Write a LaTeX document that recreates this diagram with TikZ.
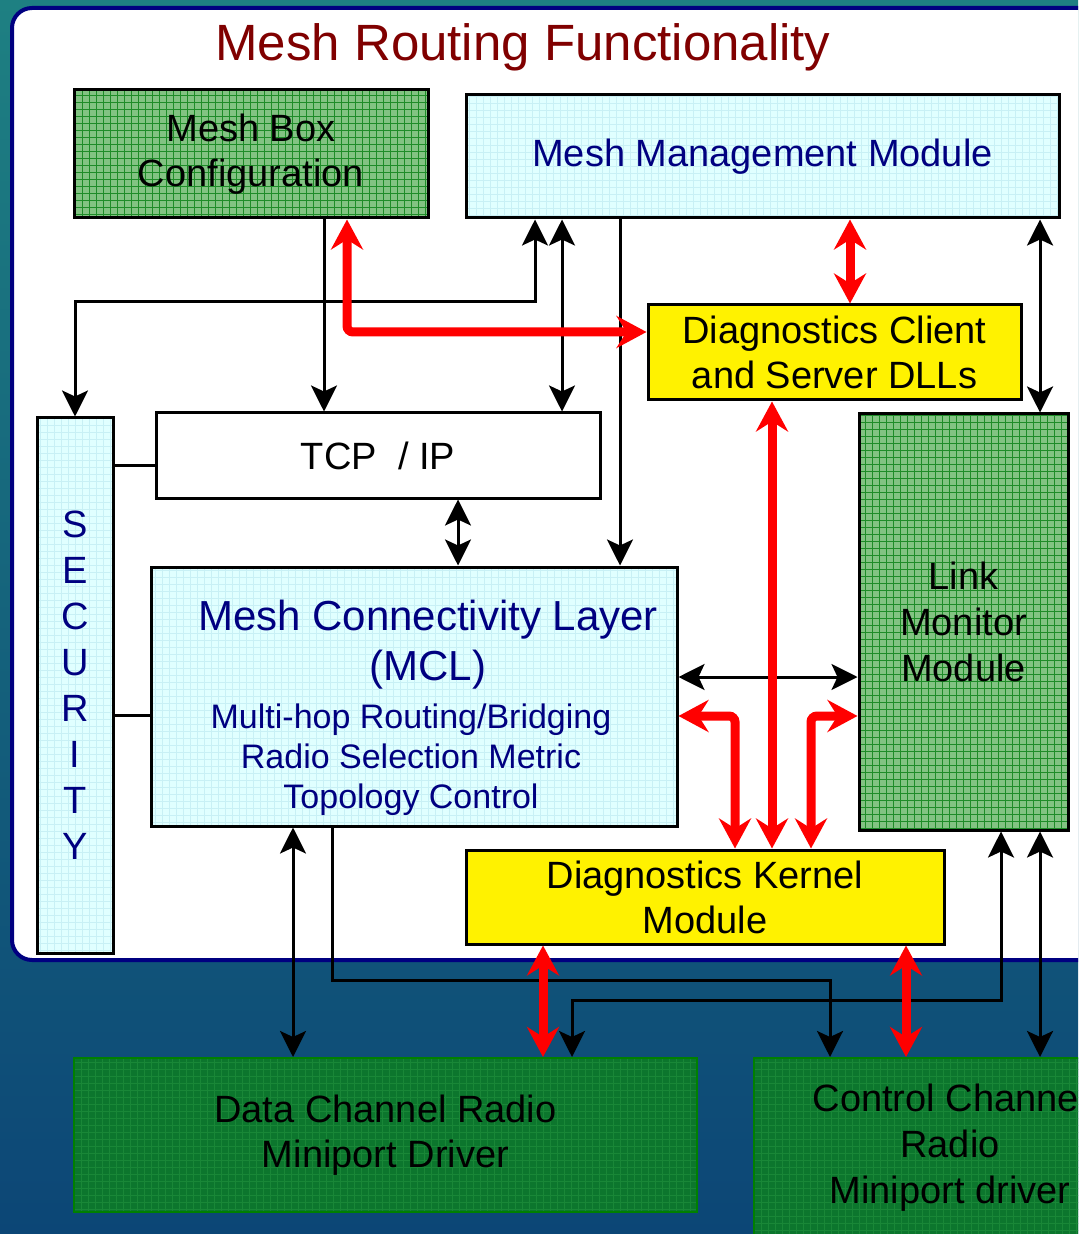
\documentclass[tikz,border=0pt]{standalone}
\usepackage{fontspec}
\setmainfont{Liberation Sans}
\usetikzlibrary{arrows.meta}
\definecolor{navy}{RGB}{0,0,128}
\definecolor{dred}{RGB}{128,0,0}
\definecolor{lcyan}{RGB}{224,255,255}
\definecolor{lcyangrid}{RGB}{200,240,245}
\definecolor{lgreen}{RGB}{130,195,130}
\definecolor{lgreengrid}{RGB}{30,140,40}
\definecolor{dgreen}{RGB}{12,118,45}
\definecolor{dgreengrid}{RGB}{25,135,55}
\definecolor{dgborder}{RGB}{0,128,0}
\definecolor{bgtop}{RGB}{30,128,130}
\definecolor{bgbot}{RGB}{12,70,118}
\tikzset{
  btip/.tip={Stealth[length=13pt,width=13pt,inset=3pt]},
  rtip/.tip={Stealth[length=15pt,width=16pt,inset=5pt]}
}
\begin{document}
\begin{tikzpicture}[x=0.5pt,y=-0.5pt,
  box/.style={draw=black, line width=1.5pt, inner sep=0pt, align=center,
    font=\fontsize{19}{22.5}\selectfont},
  gridfill/.style 2 args={fill=#1, path picture={
    \draw[#2, line width=0.4pt] (path picture bounding box.south west)
      grid[step=3.5pt] (path picture bounding box.north east);}},
  blk/.style={draw=black, line width=1.5pt},
  rd/.style={draw=red, line width=4.5pt, rounded corners=3pt}
]
\useasboundingbox (0,0) rectangle (1078,1234);
\clip (0,0) rectangle (1078,1234);
% background
\shade[top color=bgtop, bottom color=bgbot] (0,0) rectangle (1078,1234);
% white panel
\draw[navy, line width=2pt, fill=white, rounded corners=10pt] (12,8) rectangle (1110,960);
% title
\node[text=dred, font=\fontsize{25.5}{30}\selectfont] (title) at (523,47) {Mesh Routing Functionality};
% boxes
\node[box, gridfill={lgreen}{lgreengrid}, minimum width=177pt, minimum height=64pt] (meshbox) at (251,154) {Mesh Box\\Configuration};
\node[box, gridfill={lcyan}{lcyangrid}, minimum width=296.5pt, minimum height=61.5pt, text=navy] (mgmt) at (762.5,156.5) {Mesh Management Module};
\node[box, fill=yellow, minimum width=186.5pt, minimum height=47.5pt] (dcs) at (834.5,352.5) {Diagnostics Client\\and Server DLLs};
\node[box, fill=white, minimum width=222pt, minimum height=42.5pt] (tcp) at (378,455.5) {TCP\ \ / IP};
\node[box, gridfill={lcyan}{lcyangrid}, minimum width=38pt, minimum height=267.5pt, text=navy, font=\fontsize{19}{23}\selectfont] (sec) at (75,685.5) {S\\E\\C\\U\\R\\I\\T\\Y};
\node[box, gridfill={lcyan}{lcyangrid}, minimum width=263pt, minimum height=129.5pt] (mcl) at (414,696.5) {};
\node[text=navy, align=center, inner sep=0pt, font=\fontsize{21}{25}\selectfont] (mcltitle) at (428,645) {Mesh Connectivity Layer\\(MCL)};
\node[text=navy, align=center, inner sep=0pt, font=\fontsize{17}{20}\selectfont] (mclsub) at (411,760) {Multi-hop Routing/Bridging\\Radio Selection Metric\\Topology Control};
\node[box, gridfill={lgreen}{lgreengrid}, minimum width=104.5pt, minimum height=208pt, font=\fontsize{19}{23}\selectfont] (lmm) at (963.5,622) {Link\\Monitor\\Module};
\node[box, fill=yellow, minimum width=239pt, minimum height=47pt] (dkm) at (705,897) {Diagnostics Kernel\\Module};
\node[box, draw=dgborder, line width=1pt, gridfill={dgreen}{dgreengrid}, minimum width=311.5pt, minimum height=77pt] (dcr) at (385.5,1135) {Data Channel Radio\\Miniport Driver};
\node[box, draw=dgborder, line width=1pt, gridfill={dgreen}{dgreengrid}, minimum width=196pt, minimum height=102pt] (ccr) at (950,1160) {};
\node[align=center, inner sep=0pt, font=\fontsize{19}{23}\selectfont] (ccrtext) at (950,1148) {Control Channel\\Radio\\Miniport driver};
% black connectors
\draw[blk, -btip] (meshbox.south -| 324,0) -- (tcp.north -| 324,0);
\draw[blk, btip-btip] (mgmt.south -| 535,0) -- (535,302) -- (75,302) -- (sec.north);
\draw[blk, btip-btip] (mgmt.south -| 562,0) -- (tcp.north -| 562,0);
\draw[blk, -btip] (mgmt.south -| 620,0) -- (mcl.north -| 620,0);
\draw[blk, btip-btip] (mgmt.south -| 1040,0) -- (lmm.north -| 1040,0);
\draw[blk] (sec.east |- 0,466) -- (tcp.west |- 0,466);
\draw[blk] (sec.east |- 0,715) -- (mcl.west |- 0,715);
\draw[blk, btip-btip] (tcp.south -| 458,0) -- (mcl.north -| 458,0);
\draw[blk, btip-btip] (mcl.east |- 0,677) -- (lmm.west |- 0,677);
\draw[blk, btip-btip] (mcl.south -| 293,0) -- (dcr.north -| 293,0);
\draw[blk, -btip] (mcl.south -| 332,0) -- (332,980) -- (830,980) -- (ccr.north -| 830,0);
\draw[blk, btip-btip] (lmm.south -| 1001,0) -- (1001,1000) -- (572,1000) -- (dcr.north -| 572,0);
\draw[blk, btip-btip] (lmm.south -| 1040,0) -- (ccr.north -| 1040,0);
% red connectors
\draw[rd, rtip-rtip] (meshbox.south -| 347,0) -- (347,332) -- (dcs.west |- 0,332);
\draw[rd, rtip-rtip] (mgmt.south -| 850,0) -- (dcs.north -| 850,0);
\draw[rd, rtip-rtip] (dcs.south -| 772,0) -- (dkm.north -| 772,0);
\draw[rd, rtip-rtip] (mcl.east |- 0,716) -- (735,716) -- (dkm.north -| 735,0);
\draw[rd, rtip-rtip] (lmm.west |- 0,716) -- (811,716) -- (dkm.north -| 811,0);
\draw[rd, rtip-rtip] (dkm.south -| 543,0) -- (dcr.north -| 543,0);
\draw[rd, rtip-rtip] (dkm.south -| 906,0) -- (ccr.north -| 906,0);
\end{tikzpicture}
\end{document}
